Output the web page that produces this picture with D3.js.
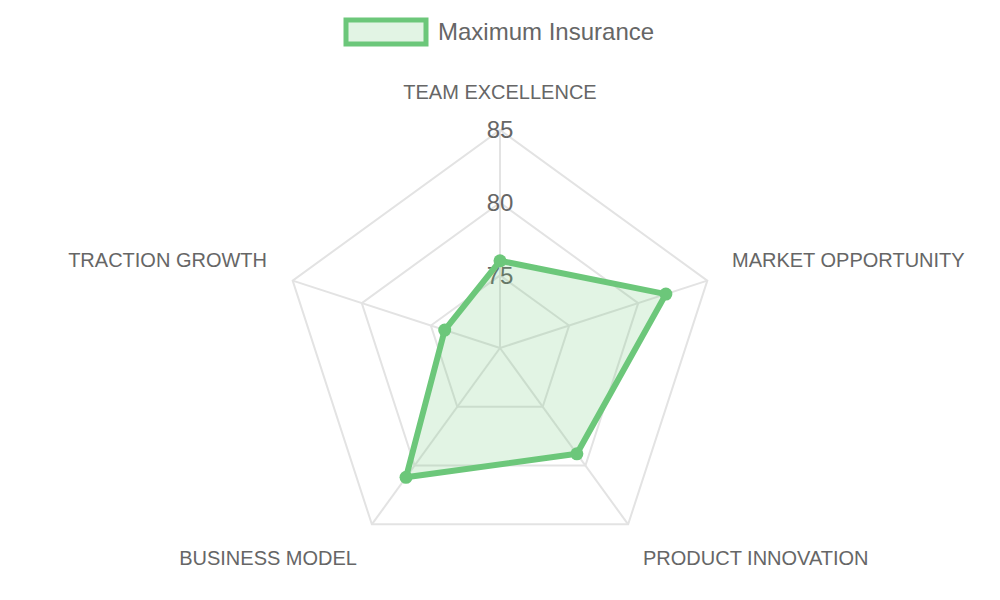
<!DOCTYPE html><html><head><script src="https://cdn.jsdelivr.net/npm/d3@7"></script>
<style>body{margin:0;background:#fff}</style></head><body><svg id="c" width="1000" height="600"></svg>
<script>
const categories=["TEAM EXCELLENCE","MARKET OPPORTUNITY","PRODUCT INNOVATION","BUSINESS MODEL","TRACTION GROWTH"];
const values=[76,82,79,81,74];
const ticks=[75,80,85];
const seriesName="Maximum Insurance";
const svg=d3.select("#c"),cx=500,cy=348,R=218;
const r=d3.scaleLinear().domain([70,85]).range([0,R]);
const col="rgb(108,199,122)";
const ang=i=>-Math.PI/2+i*2*Math.PI/categories.length;
const pt=(i,v)=>[cx+r(v)*Math.cos(ang(i)),cy+r(v)*Math.sin(ang(i))];
const g=svg.append("g");
ticks.forEach(t=>g.append("polygon").attr("points",categories.map((c,i)=>pt(i,t).join(",")).join(" ")).attr("fill","none").attr("stroke","#e3e3e3").attr("stroke-width",2));
categories.forEach((c,i)=>{const p=pt(i,85);g.append("line").attr("x1",cx).attr("y1",cy).attr("x2",p[0]).attr("y2",p[1]).attr("stroke","#e3e3e3").attr("stroke-width",2);});
ticks.forEach(t=>g.append("text").attr("x",cx).attr("y",cy-r(t)).attr("dy","0.35em").attr("text-anchor","middle").attr("font-family","Liberation Sans, Arial").attr("font-size",24).attr("fill","#666").text(t));
g.append("polygon").attr("points",values.map((v,i)=>pt(i,v).join(",")).join(" ")).attr("fill","rgba(108,199,122,0.2)").attr("stroke",col).attr("stroke-width",6).attr("stroke-linejoin","round");
values.forEach((v,i)=>{const p=pt(i,v);g.append("circle").attr("cx",p[0]).attr("cy",p[1]).attr("r",6.5).attr("fill",col);});
categories.forEach((c,i)=>{const a=ang(i),rr=R+38;const x=cx+rr*Math.cos(a),y=cy+rr*Math.sin(a);
 const cs=Math.cos(a);const anchor=Math.abs(cs)<0.1?"middle":cs>0?"start":"end";
 let yy=y; if(i==0) yy=cy-256; if(i==2||i==3) yy=cy+210; if(i==1||i==4) yy=cy-88;
 let xx=i==1?732:i==4?267:i==2?643:i==3?357:x;
 g.append("text").attr("x",xx).attr("y",yy).attr("dy","0.35em").attr("text-anchor",anchor).attr("font-family","Liberation Sans, Arial").attr("font-size",20).attr("fill","#666").text(c);});
svg.append("rect").attr("x",346).attr("y",20).attr("width",80).attr("height",24).attr("fill","rgba(108,199,122,0.2)").attr("stroke",col).attr("stroke-width",5);
svg.append("text").attr("x",438).attr("y",32).attr("dy","0.35em").attr("font-family","Liberation Sans, Arial").attr("font-size",24).attr("fill","#666").text(seriesName);
</script></body></html>
